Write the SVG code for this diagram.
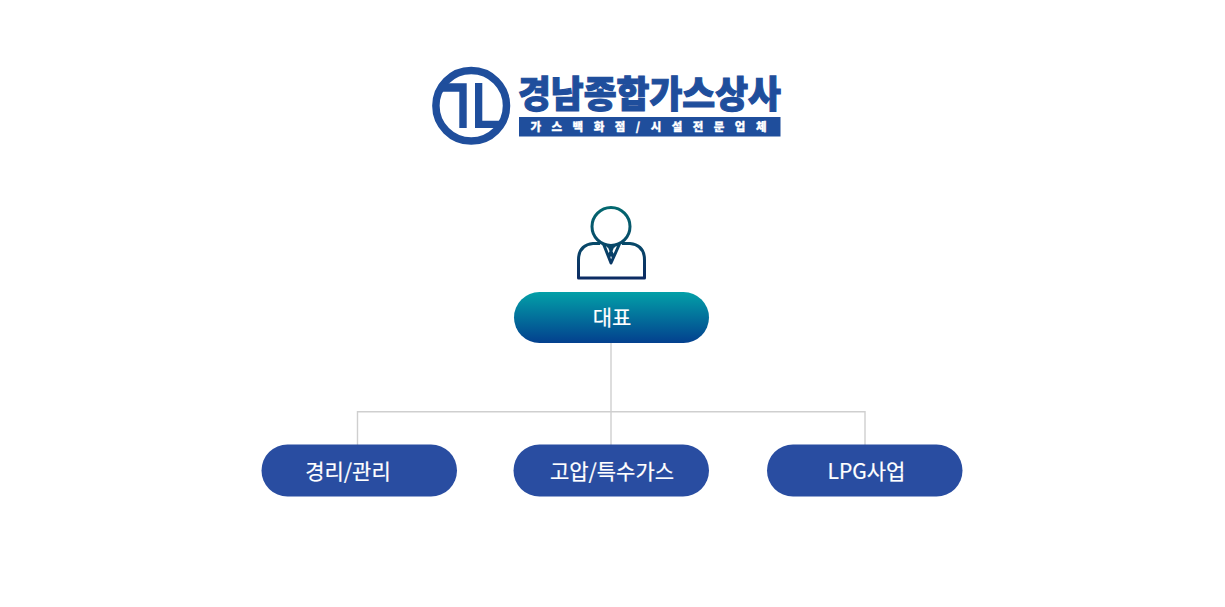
<svg xmlns="http://www.w3.org/2000/svg" width="1225" height="607" viewBox="0 0 1225 607">
<style>
text{font-family:"Noto Sans CJK KR","Noto Sans",sans-serif;text-anchor:middle}
.lab{font-size:21px;font-weight:400;fill:#fff;stroke:#fff;stroke-width:.2}
.blue{fill:#294da1}
.conn{fill:none;stroke:#cfcfcf;stroke-width:1.4}
.lg{fill:none;stroke:#1f4e9c}
.ic{fill:none;stroke:url(#ig);stroke-width:3;stroke-linejoin:round}
</style>
<defs>
<linearGradient id="bg" x1="0" y1="0" x2="0" y2="1"><stop offset="0" stop-color="#03a0a8"/><stop offset="1" stop-color="#03408e"/></linearGradient>
<linearGradient id="ig" gradientUnits="userSpaceOnUse" x1="0" y1="207" x2="0" y2="280"><stop offset="0" stop-color="#03686f"/><stop offset="1" stop-color="#0c2a63"/></linearGradient>
</defs>
<rect width="1225" height="607" fill="#fff"/>
<g id="connectors">
<path class="conn" d="M611 343V445M357.500 445V411.800H865V445"/>
</g>
<g id="logo">
<circle class="lg" cx="471.200" cy="105.800" r="35.300" stroke-width="7.500"/>
<path fill="#1f4e9c" d="M441 83.300H466.700V128H459.300V91.700H441ZM475 83H482.300V120.700H503L500 128H475Z"/>
<text x="649.500" y="107.500" font-size="37" font-weight="900" fill="#1f4e9c" stroke="#1f4e9c" stroke-width="1.100" textLength="263" lengthAdjust="spacingAndGlyphs">경남종합가스상사</text>
<rect x="519" y="117" width="261.500" height="19.500" fill="#1f4e9c"/>
<text x="648.500" y="131" font-size="11.500" font-weight="900" fill="#fff" stroke="#fff" stroke-width=".3" textLength="236">가 스 백 화 점 / 시 설 전 문 업 체</text>
</g>
<g id="icon">
<circle class="ic" cx="611" cy="226.500" r="19"/>
<path class="ic" d="M600 243.500H593Q578.500 245 578.500 260V278H644.500V260Q644.500 245 630 243.500H622"/>
<path class="ic" stroke-width="2" d="M603.500 244L611 263L619.500 244M607 246H615M609 246L611 251L613 246M611 251L609 257M611 251L613 257"/>
</g>
<g id="node-ceo">
<rect x="514" y="292" width="195" height="51" rx="25.500" fill="url(#bg)"/>
<text class="lab" x="612" y="325">대표</text>
</g>
<g id="node-accounting">
<rect class="blue" x="261.500" y="444.500" width="195.500" height="52" rx="26"/>
<text class="lab" x="348" y="479">경리/관리</text>
</g>
<g id="node-gas">
<rect class="blue" x="513.500" y="444.500" width="195.500" height="52" rx="26"/>
<text class="lab" x="612" y="479">고압/특수가스</text>
</g>
<g id="node-lpg">
<rect class="blue" x="767" y="444.500" width="195.500" height="52" rx="26"/>
<text class="lab" x="866.500" y="479">LPG사업</text>
</g>
</svg>
